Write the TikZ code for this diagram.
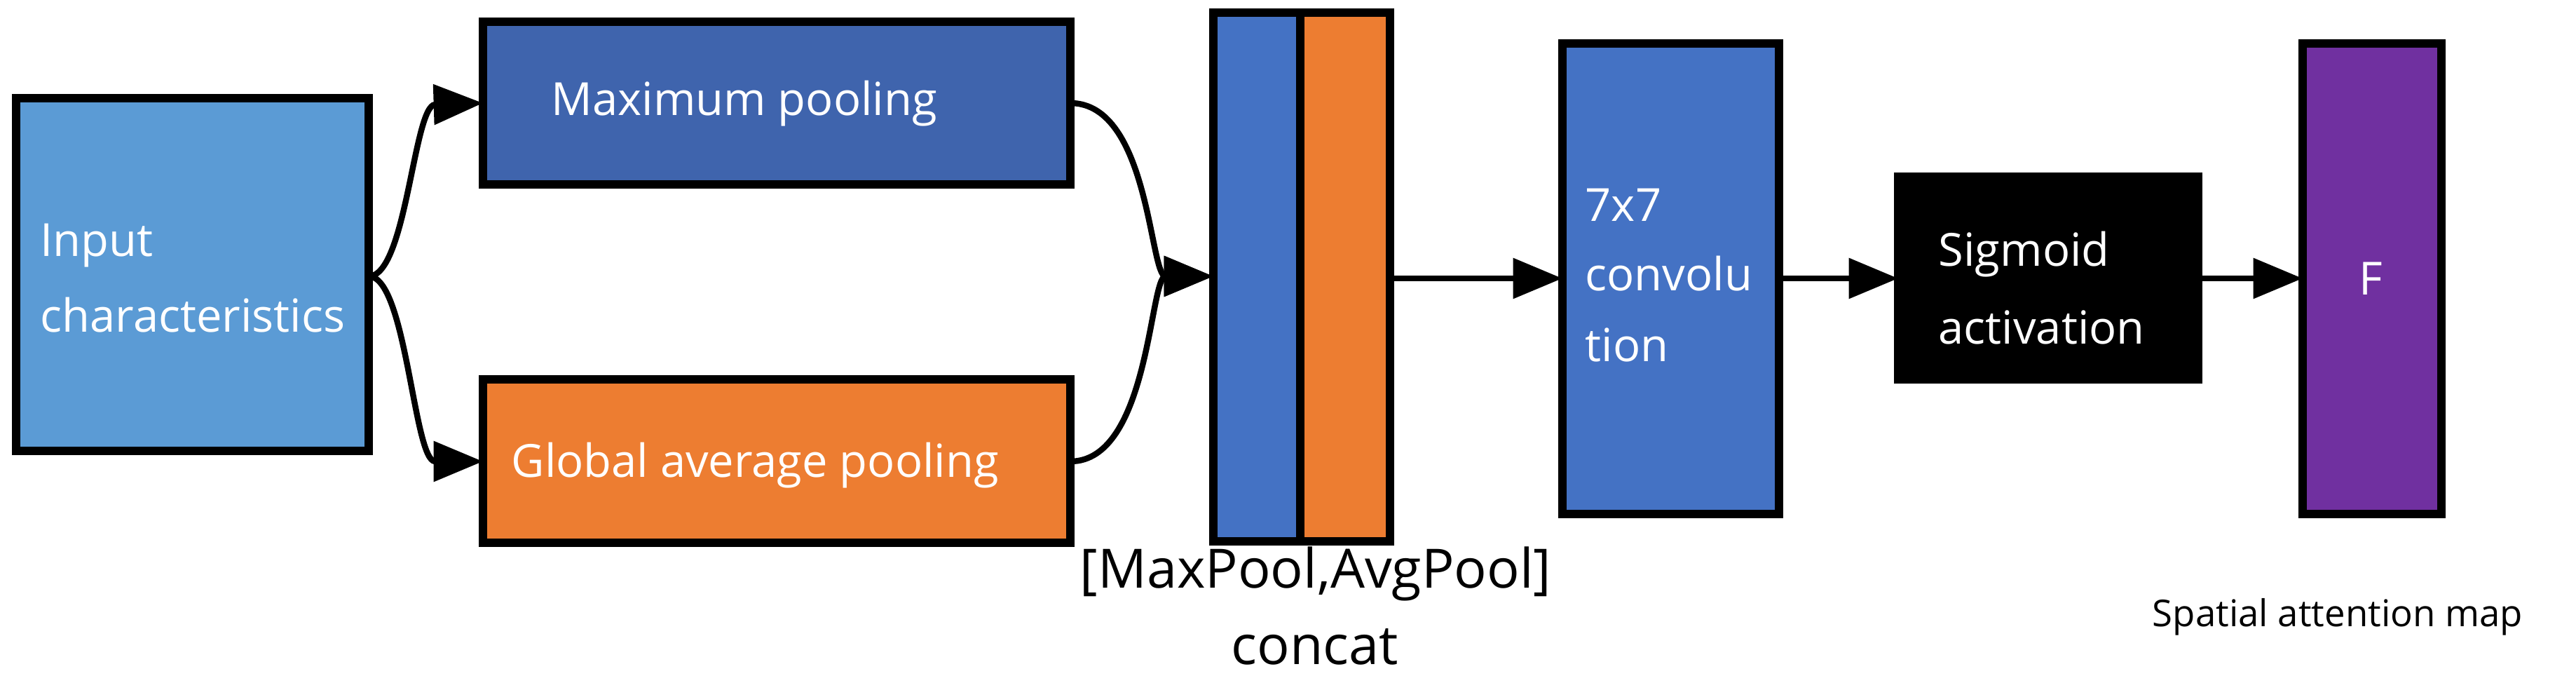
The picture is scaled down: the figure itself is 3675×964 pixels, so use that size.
\documentclass[tikz,border=0pt]{standalone}
\usepackage{fontspec}
\setmainfont{Open Sans}
\usetikzlibrary{arrows.meta}
\definecolor{cin}{HTML}{5B9BD5}
\definecolor{cmax}{HTML}{3F64AD}
\definecolor{corg}{HTML}{ED7D31}
\definecolor{cconv}{HTML}{4472C4}
\definecolor{cpur}{HTML}{7030A0}
\begin{document}
\begin{tikzpicture}[x=0.01cm,y=-0.01cm,
  box/.style={draw=black,line width=3.2pt,inner sep=0},
  txt/.style={text=white,font=\fontsize{18.5}{22}\selectfont,anchor=west,inner sep=0},
  arr/.style={line width=2.4pt,-{Triangle[length=20pt,width=16pt]}}]
\useasboundingbox (0,0) rectangle (3675,964);
\path[box,fill=cin] (23,140) rectangle (526,643);
\coordinate (in) at (526,394);
\path[box,fill=cmax] (689,31) rectangle (1527,263);
\path[box,fill=corg] (689,541) rectangle (1527,774);
\path[box,fill=cconv] (1731,18) rectangle (1855,772);
\path[box,fill=corg] (1855,18) rectangle (1983,772);
\path[box,fill=cconv] (2229,62) rectangle (2538,733);
\path[box,fill=black] (2708,252) rectangle (3136,541);
\path[box,fill=cpur] (3285,62) rectangle (3483,733);
\coordinate (mxl) at (689,147);
\coordinate (mxr) at (1527,147);
\coordinate (avl) at (689,658);
\coordinate (avr) at (1527,658);
\coordinate (cl) at (1731,394);
\coordinate (cr) at (1983,397);
\coordinate (vl) at (2229,397);
\coordinate (vr) at (2538,397);
\coordinate (sl) at (2708,397);
\coordinate (sr) at (3136,397);
\coordinate (fl) at (3285,397);
\node[txt] (t1) at (57,350) {Input};
\node[txt] (t2) at (57,449) {characteristics};
\node[txt] (t3) at (786,148) {Maximum pooling};
\node[txt] (t4) at (729,664) {Global average pooling};
\node[txt] (t5) at (2261,292) {7x7};
\node[txt] (t6) at (2261,390) {convolu};
\node[txt] (t7) at (2261,492) {tion};
\node[txt] (t8) at (2765,363) {Sigmoid};
\node[txt] (t9) at (2765,467) {activation};
\node[txt,anchor=center] (tf) at (3382,397) {F};
\node[font=\fontsize{22}{26}\selectfont,inner sep=0] (c1) at (1877,818) {[MaxPool,AvgPool]};
\node[font=\fontsize{22}{26}\selectfont,inner sep=0] (c2) at (1876,922) {concat};
\node[font=\fontsize{15}{18}\selectfont,inner sep=0] (sp) at (3335,880) {Spatial attention map};
\draw[arr] (in) .. controls (580,394) and (590,150) .. (mxl);
\draw[arr] (in) .. controls (580,394) and (590,658) .. (avl);
\draw[arr] (mxr) .. controls (1640,147) and (1640,394) .. (cl);
\draw[arr] (avr) .. controls (1640,658) and (1640,394) .. (cl);
\draw[arr] (cr) -- (vl);
\draw[arr] (vr) -- (sl);
\draw[arr] (sr) -- (fl);
\end{tikzpicture}
\end{document}
